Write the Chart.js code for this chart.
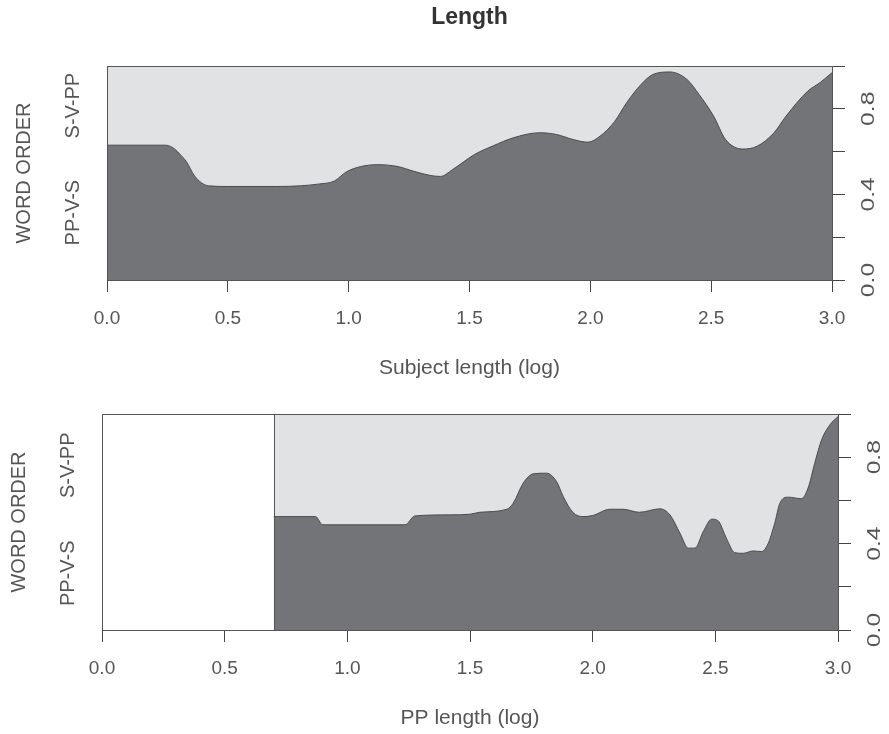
<!DOCTYPE html>
<html>
<head>
<meta charset="utf-8">
<title>Length</title>
<script src="https://cdn.jsdelivr.net/npm/chart.js@4.4.0/dist/chart.umd.min.js"></script>
<style>
    html, body { margin: 0; padding: 0; background: #fff; }
    body { width: 889px; height: 734px; position: relative; overflow: hidden; }
    canvas { position: absolute; left: 0; }
    #subjChart { top: 0; }
    #ppChart { top: 380px; }
</style>
</head>
<body>
<canvas id="subjChart" width="889" height="400"></canvas>
<canvas id="ppChart" width="889" height="354"></canvas>
<script>
// word orders, bottom band first
const orders = ['PP-V-S', 'S-V-PP'];

// subject length (log) -> share of PP-V-S
const subjX = [0, 0.24, 0.27, 0.30, 0.33, 0.36, 0.39, 0.42, 0.50, 0.60, 0.70, 0.80,
    0.88, 0.94, 0.99, 1.05, 1.12, 1.20, 1.27, 1.34, 1.38, 1.43, 1.52, 1.60, 1.68,
    1.79, 1.86, 1.93, 1.99, 2.04, 2.10, 2.15, 2.21, 2.26, 2.33, 2.40, 2.45, 2.51,
    2.56, 2.63, 2.69, 2.76, 2.81, 2.90, 2.95, 3.00];
const subjPPVS = [0.63, 0.63, 0.62, 0.59, 0.55, 0.49, 0.455, 0.44, 0.437, 0.437, 0.437, 0.44,
    0.449, 0.462, 0.505, 0.53, 0.539, 0.531, 0.508, 0.488, 0.484, 0.516, 0.586, 0.628, 0.664,
    0.688, 0.68, 0.656, 0.644, 0.672, 0.74, 0.828, 0.914, 0.961, 0.972, 0.937, 0.867, 0.766,
    0.656, 0.612, 0.625, 0.688, 0.766, 0.883, 0.922, 0.969];

// PP length (log) -> share of PP-V-S
const ppX = [0.70, 0.87, 0.90, 1.235, 1.275, 1.42, 1.50, 1.54, 1.65, 1.676,
    1.717, 1.758, 1.812, 1.853, 1.88, 1.92, 1.96, 2.00, 2.07, 2.124,
    2.19, 2.274, 2.315, 2.356, 2.39, 2.417, 2.451, 2.485, 2.511, 2.545,
    2.579, 2.613, 2.654, 2.688, 2.715, 2.742, 2.763, 2.797, 2.851, 2.878,
    2.905, 2.933, 2.967, 3.00];
const ppPPVS = [0.525, 0.525, 0.487, 0.487, 0.528, 0.533, 0.536, 0.545, 0.559, 0.587,
    0.68, 0.723, 0.726, 0.687, 0.618, 0.544, 0.525, 0.53, 0.559, 0.559,
    0.545, 0.561, 0.533, 0.448, 0.379, 0.379, 0.456, 0.513, 0.506, 0.425,
    0.358, 0.355, 0.366, 0.363, 0.4, 0.494, 0.587, 0.615, 0.608, 0.657,
    0.772, 0.88, 0.95, 0.988];

// labelled ticks on the right axis
const yLabels = [0.0, 0.4, 0.8];

const FONT = '"Liberation Sans", Arial, sans-serif';
const TEXT = '#555';

function drawText(ctx, str, x, y, rot, font, stretch) {
    ctx.save();
    ctx.translate(x, y);
    ctx.rotate(rot);
    ctx.scale(stretch || 1, 1);
    ctx.font = font;
    ctx.textAlign = 'center';
    ctx.textBaseline = 'middle';
    ctx.fillText(str, 0, 0);
    ctx.restore();
}

// frame, rotated labels and the title
const decor = {
    id: 'decor',
    afterDraw(chart, args, opts) {
        const ctx = chart.ctx;
        const a = chart.chartArea;
        const xs = chart.scales.x, ys = chart.scales.y;
        ctx.save();
        ctx.strokeStyle = '#555';
        ctx.lineWidth = 1;
        const l = Math.round(a.left) + 0.5, t = Math.round(a.top) + 0.5;
        const r = Math.round(a.right) + 0.5, b = Math.round(a.bottom) + 0.5;
        ctx.strokeRect(l, t, r - l, b - t);

        const first = chart.data.datasets[0].data[0];
        if (first.x > xs.min) {
            const px = Math.round(xs.getPixelForValue(first.x)) + 0.5;
            ctx.beginPath();
            ctx.moveTo(px, t);
            ctx.lineTo(px, b);
            ctx.stroke();
        }

        ctx.fillStyle = TEXT;
        yLabels.forEach(v => {
            drawText(ctx, v.toFixed(1), a.right + 37, ys.getPixelForValue(v), -Math.PI / 2, '19px ' + FONT, 1.3);
        });

        drawText(ctx, 'WORD ORDER', a.left - 83, (a.top + a.bottom) / 2, -Math.PI / 2, '20px ' + FONT);
        // category names sit in the middle of each band at the first x
        drawText(ctx, orders[0], a.left - 34, ys.getPixelForValue(first.y / 2), -Math.PI / 2, '20px ' + FONT);
        drawText(ctx, orders[1], a.left - 34, ys.getPixelForValue((1 + first.y) / 2), -Math.PI / 2, '20px ' + FONT);

        if (opts.title) {
            ctx.fillStyle = '#333';
            drawText(ctx, opts.title, (a.left + a.right) / 2, 18, 0, 'bold 23px ' + FONT);
        }
        ctx.restore();
    }
};

function makeChart(id, xs, share, xTitle, box) {
    const ppvs = xs.map((x, i) => ({ x: x, y: share[i] }));
    const svpp = xs.map((x, i) => ({ x: x, y: 1 - share[i] }));
    return new Chart(document.getElementById(id), {
        type: 'line',
        data: {
            datasets: [{
                label: orders[0],
                data: ppvs,
                fill: 'origin',
                backgroundColor: '#737478',
                borderColor: '#4a4a4a',
                borderWidth: 1,
                pointRadius: 0,
                cubicInterpolationMode: 'monotone'
            }, {
                label: orders[1],
                data: svpp,
                fill: '-1',
                backgroundColor: '#e1e2e4',
                borderColor: '#e1e2e4',
                borderWidth: 0,
                pointRadius: 0,
                cubicInterpolationMode: 'monotone'
            }]
        },
        options: {
            responsive: false,
            animation: false,
            layout: { padding: { left: box.left, top: box.top, right: 0, bottom: 0 } },
            scales: {
                x: {
                    type: 'linear',
                    min: 0,
                    max: 3,
                    afterFit: s => { s.height = box.xHeight; },
                    grid: { drawOnChartArea: false, tickLength: 12, color: '#444' },
                    border: { color: '#444' },
                    ticks: {
                        stepSize: 0.5,
                        padding: 15,
                        color: TEXT,
                        font: { family: FONT, size: 19 },
                        callback: v => v.toFixed(1)
                    },
                    title: {
                        display: true,
                        text: xTitle,
                        color: TEXT,
                        font: { family: FONT, size: 21 },
                        padding: { top: 0, bottom: box.titlePad }
                    }
                },
                y: {
                    position: 'right',
                    stacked: true,
                    min: 0,
                    max: 1,
                    afterFit: s => { s.width = box.yWidth; },
                    grid: { drawOnChartArea: false, tickLength: 13, color: '#444' },
                    border: { color: '#444' },
                    ticks: { stepSize: 0.2, display: false }
                }
            },
            plugins: {
                legend: { display: false },
                tooltip: { enabled: false },
                decor: { title: box.title }
            }
        },
        plugins: [decor]
    });
}

makeChart('subjChart', subjX, subjPPVS, 'Subject length (log)',
    { left: 107, top: 66, xHeight: 120, yWidth: 57, titlePad: 19, title: 'Length' });
makeChart('ppChart', ppX, ppPPVS, 'PP length (log)',
    { left: 102, top: 34, xHeight: 104, yWidth: 51, titlePad: 3 });
</script>
</body>
</html>
